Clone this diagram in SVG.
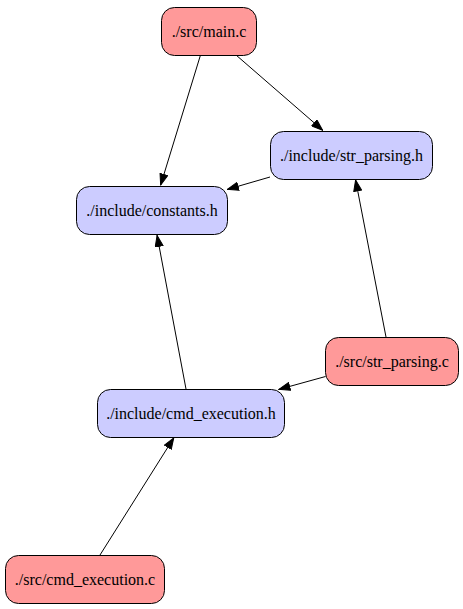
<svg xmlns="http://www.w3.org/2000/svg" width="463" height="609" viewBox="0 0 463 609">
<style>
.src rect{fill:#ff9999;stroke:#000;stroke-width:1}
.hdr rect{fill:#ccccff;stroke:#000;stroke-width:1}
#edges line{stroke:#000;stroke-width:1;marker-end:url(#arr)}
</style>
<defs>
<marker id="arr" viewBox="0 0 12 9" refX="12" refY="4.5" markerWidth="12" markerHeight="9" markerUnits="userSpaceOnUse" orient="auto">
<path d="M0.5,0.5 L11.5,4.5 L0.5,8.5 z" fill="#000" stroke="#000" stroke-width="1"/>
</marker>
</defs>
<rect width="463" height="609" fill="#fff"/>
<g id="edges">
<line x1="200.5" y1="55" x2="160.5" y2="185.5"/>
<line x1="236" y1="55" x2="323" y2="130.5"/>
<line x1="270" y1="177" x2="227" y2="189.5"/>
<line x1="386" y1="337" x2="355.5" y2="179.5"/>
<line x1="186" y1="389" x2="157" y2="235"/>
<line x1="325.5" y1="376.5" x2="278.5" y2="389.5"/>
<line x1="100" y1="555" x2="174" y2="437.5"/>
</g>
<g font-family="Liberation Serif, DejaVu Serif, serif" font-size="16" text-anchor="middle" fill="#000">
<g id="main_c" class="src"><rect x="161.5" y="7.5" width="95" height="48" rx="13"/><text x="209" y="36.5">./src/main.c</text></g>
<g id="str_parsing_h" class="hdr"><rect x="270.5" y="131.5" width="162" height="48" rx="13"/><text x="351.5" y="160.5">./include/str_parsing.h</text></g>
<g id="constants_h" class="hdr"><rect x="76.5" y="186.5" width="151" height="48" rx="13"/><text x="152" y="215.5">./include/constants.h</text></g>
<g id="str_parsing_c" class="src"><rect x="325.5" y="337.5" width="133" height="48" rx="13"/><text x="392" y="366.5">./src/str_parsing.c</text></g>
<g id="cmd_execution_h" class="hdr"><rect x="97.5" y="389.5" width="187" height="48" rx="13"/><text x="191" y="418.5">./include/cmd_execution.h</text></g>
<g id="cmd_execution_c" class="src"><rect x="5.5" y="555.5" width="159" height="48" rx="13"/><text x="85" y="584.5">./src/cmd_execution.c</text></g>
</g>
</svg>
